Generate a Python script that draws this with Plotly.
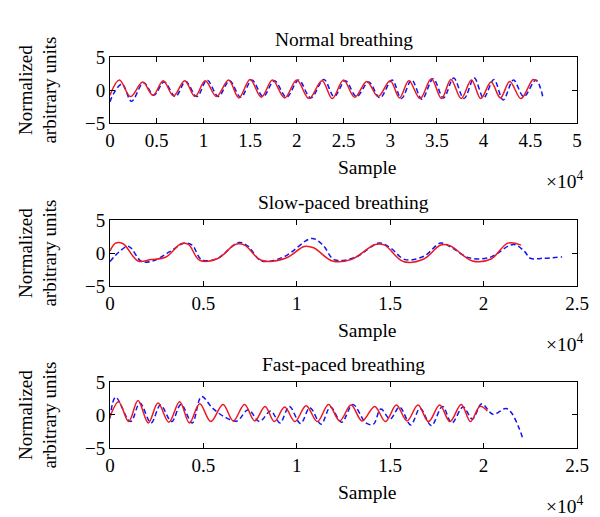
import plotly.graph_objects as go
from plotly.subplots import make_subplots

# ---- data (x in samples, y in normalized units) ----
normal_red_x = [0, 1000, 2200, 3500, 4600, 5700, 6800, 8000, 9100, 10200, 11400, 12700, 13800,
                15000, 16200, 17400, 18700, 20000, 21300, 22700, 23800, 25000, 26200, 27500,
                28700, 30000, 31000, 32000, 33200, 34400, 35500, 36500, 37600, 38700, 39700,
                40800, 41800, 42800, 44000, 45300, 45700]
normal_red_y = [-0.8, 1.5, -1.0, 1.2, -0.8, 1.4, -0.9, 1.4, -1.0, 1.4, -1.0, 1.5, -1.2,
                1.6, -1.1, 1.5, -1.2, 1.5, -1.3, 1.4, -1.3, 1.5, -1.1, 1.3,
                -1.0, 1.4, -1.2, 1.4, -1.3, 1.7, -1.3, 1.6, -1.3, 1.5, -1.3,
                1.2, -1.2, 1.3, -1.3, 1.6, 1.3]
normal_blue_x = [0, 400, 1300, 2300, 3600, 4700, 5800, 7000, 8100, 9300, 10400, 11600, 12800,
                 14000, 15200, 16400, 17600, 18900, 20200, 21500, 22900, 24000, 25200, 26400,
                 27700, 28900, 30200, 31200, 32300, 33400, 34600, 35700, 36800, 37900, 39000,
                 40000, 41100, 42100, 43200, 44300, 45600, 46400]
normal_blue_y = [-1.8, -0.5, 0.9, -1.7, 1.1, -0.8, 1.2, -1.0, 1.3, -1.0, 1.5, -1.0, 1.4,
                 -1.1, 1.5, -1.0, 1.4, -1.1, 1.5, -1.2, 1.6, -1.0, 1.4, -1.0,
                 1.2, -1.2, 1.5, -1.3, 1.5, -1.4, 1.7, -1.2, 1.8, -1.3, 1.8,
                 -1.2, 1.6, -1.5, 1.5, -1.0, 1.5, -1.4]

slow_red_x = [0, 300, 700, 1500, 2200, 3000, 3800, 4200, 4800, 5800, 6700, 7200, 8100, 9400,
              10400, 10900, 11900, 12900, 14200, 14700, 15700, 16800, 17700, 18200, 19400,
              20400, 21300, 22000]
slow_red_y = [0.3, 1.5, 1.4, -1.2, -1.0, -0.6, 1.4, 1.3, -1.1, -0.8, 1.3, 1.2, -1.1, -0.8,
              1.0, 0.8, -1.2, -1.0, 1.3, 1.2, -1.3, -0.9, 1.2, 1.1, -1.2,
              -0.9, 1.5, 1.2]
slow_blue_x = [0, 500, 1000, 1700, 2400, 3200, 4000, 4400, 4900, 5700, 6900, 7400, 8100, 9300,
               10800, 11400, 12000, 13100, 14400, 15000, 15800, 16800, 17700, 18300, 19200,
               20300, 21600, 22200, 22500, 23200, 24200]
slow_blue_y = [-1.3, 0.2, 1.0, -1.3, -1.1, 0.2, 1.5, 1.2, -1.0, -0.9, 1.6, 1.0, -1.2, -0.6,
               2.2, 1.2, -1.0, -0.7, 1.5, 0.8, -1.0, -0.5, 1.5, 0.8, -0.7,
               -0.7, 1.3, 0.2, -0.8, -0.8, -0.6]

fast_red_x = [0, 460, 1000, 1500, 2050, 2570, 3150, 3730, 4250, 4800, 5400, 6050, 6600, 7200,
              7750, 8300, 8800, 9350, 9900, 10500, 11100, 11700, 12300, 12900, 13500, 14170,
              14750, 15330, 15900, 16490, 17050, 17650, 18200, 18800, 19300, 19800, 20200]
fast_red_y = [-0.3, 2.0, -1.0, 2.2, -1.2, 1.8, -1.1, 2.0, -1.2, 1.7, -1.0, 1.6, -0.9, 1.6,
              -0.9, 1.3, -1.0, 1.2, -1.0, 1.4, -1.0, 1.6, -0.9, 1.5, -0.9, 1.3,
              -1.0, 1.5, -0.9, 1.5, -1.0, 1.5, -1.0, 1.6, -1.0, 1.3, 0.6]
fast_blue_x = [0, 300, 1100, 1600, 2200, 2700, 3300, 3800, 4400, 4900, 5500, 6200, 6800, 7400,
               8000, 8600, 9100, 9600, 10200, 10700, 11300, 11800, 12400, 13000, 13700, 14100,
               14500, 15000, 15500, 16100, 16600, 17200, 17800, 18300, 18900, 19400, 19900,
               20500, 21200, 21500, 21900, 22100]
fast_blue_y = [-0.5, 2.7, -1.0, 1.8, -1.2, 1.5, -1.0, 1.6, -1.2, 2.8, 1.0, -0.4, -0.9, 0.8,
               -1.0, 0.6, -1.2, 1.3, -1.3, 1.1, -1.4, 1.2, -1.1, 1.6, -1.2, -1.4,
               0.9, -0.6, 1.2, -1.5, 1.0, -1.6, 1.3, -1.2, 1.2, -0.6, 1.7,
               0.1, 1.0, 0.3, -2.0, -3.6]

panels = [
    ("Normal breathing", normal_red_x, normal_red_y, normal_blue_x, normal_blue_y, 50000),
    ("Slow-paced breathing", slow_red_x, slow_red_y, slow_blue_x, slow_blue_y, 25000),
    ("Fast-paced breathing", fast_red_x, fast_red_y, fast_blue_x, fast_blue_y, 25000),
]

FONT = "Liberation Serif"
RED = "rgb(235,25,35)"
BLUE = "rgb(20,20,235)"

fig = make_subplots(rows=3, cols=1)

# panel domains (paper coords), all panels same height
domains = [(0.8312, 1.0), (0.4143, 0.5831), (0.0, 0.1688)]

annotations = []
for i, (title, rx, ry, bx, by, xmax) in enumerate(panels):
    row = i + 1
    fig.add_trace(go.Scatter(x=bx, y=by, mode="lines", line_shape="spline",
                             line=dict(color=BLUE, width=1.5, dash="5px,3px")),
                  row=row, col=1)
    fig.add_trace(go.Scatter(x=rx, y=ry, mode="lines", line_shape="spline",
                             line=dict(color=RED, width=1.5)),
                  row=row, col=1)

    ticks = list(range(0, xmax + 1, 5000))
    fig.update_xaxes(range=[0, xmax], tickvals=ticks,
                     ticktext=[("%g" % (t / 10000)) for t in ticks],
                     domain=[0, 1], row=row, col=1)
    fig.update_yaxes(range=[-5, 5], tickvals=[-5, 0, 5], ticktext=["\u22125", "0", "5"],
                     domain=list(domains[i]), row=row, col=1)

    xd = "x domain" if i == 0 else "x%d domain" % row
    yd = "y domain" if i == 0 else "y%d domain" % row
    annotations += [
        dict(text=title, xref=xd, yref=yd, x=0.5, y=1, yshift=5, yanchor="bottom",
             showarrow=False, font=dict(size=19.5)),
        dict(text="Sample", xref=xd, yref=yd, x=0.5, y=0, yshift=-44, xshift=24,
             yanchor="middle", showarrow=False, font=dict(size=19.5)),
        dict(text="\u00d710<sup>4</sup>", xref=xd, yref=yd, x=1, y=0, yshift=-57,
             xshift=9, xanchor="right", yanchor="middle", showarrow=False,
             font=dict(size=19.5)),
        dict(text="Normalized<br>arbitrary units", xref="paper", yref=yd,
             x=-0.155, y=0.5, xanchor="center", yanchor="middle", textangle=-90,
             showarrow=False, font=dict(size=19)),
    ]

fig.update_xaxes(showline=True, linecolor="black", linewidth=1, mirror="ticks",
                 ticks="inside", ticklen=5, tickcolor="black", showgrid=False,
                 zeroline=False, tickfont=dict(size=19))
fig.update_yaxes(showline=True, linecolor="black", linewidth=1, mirror="ticks",
                 ticks="inside", ticklen=5, tickcolor="black", showgrid=False,
                 zeroline=False, tickfont=dict(size=19))

fig.update_layout(
    width=600, height=517,
    margin=dict(l=102, r=31, t=49, b=77),
    paper_bgcolor="white", plot_bgcolor="white",
    showlegend=False,
    font=dict(family=FONT, color="black", size=19),
    annotations=annotations,
)

fig.write_html("out.html")
